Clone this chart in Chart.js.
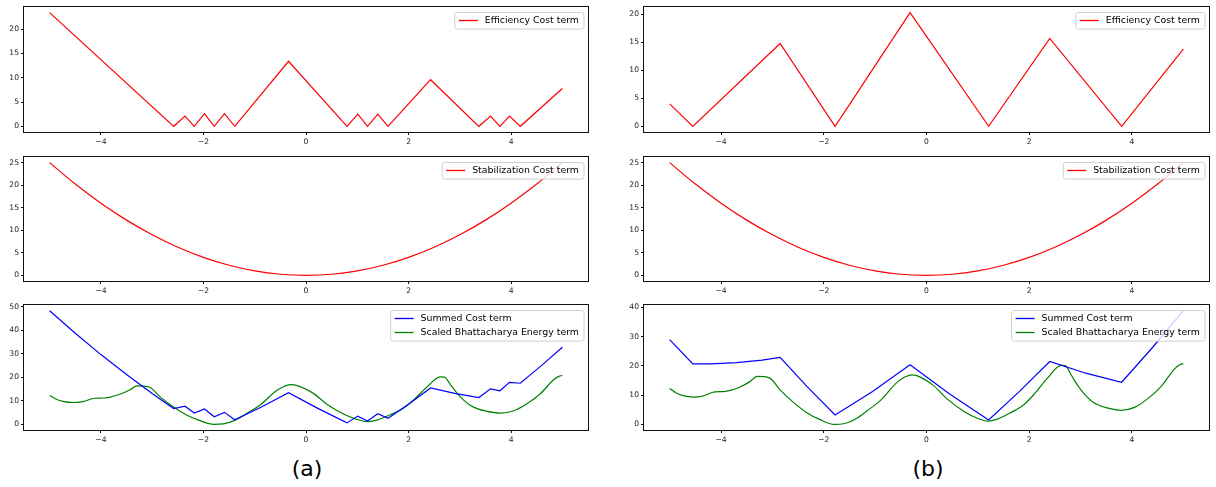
<!DOCTYPE html>
<html>
<head>
<meta charset="utf-8">
<script src="https://cdn.jsdelivr.net/npm/chart.js@4.4.1/dist/chart.umd.min.js"></script>
<style>
  html, body { margin: 0; padding: 0; background: #fff; width: 1216px; height: 487px; overflow: hidden; }
  canvas { position: absolute; }
  .cap { position: absolute; font-family: 'DejaVu Sans', sans-serif; font-size: 22px; color: #000;
         transform: translate(-50%, -50%); white-space: nowrap; }
</style>
</head>
<body>
<div class="cap" style="left:307px;top:468px">(a)</div>
<div class="cap" style="left:928px;top:468px">(b)</div>
<script>
// cost terms over the state range [-5, 5]

// (a) efficiency cost, vertices of the piecewise-linear curve
var effA_x = [-5.0, -2.58, -2.36, -2.18, -1.98, -1.79, -1.59, -1.39, -0.34, 0.80, 1.01, 1.20, 1.40, 1.60, 2.43, 3.37, 3.60, 3.78, 3.97, 4.18, 5.0];
var effA_y = [23.4, 0.0, 2.1, 0.0, 2.6, 0.0, 2.6, 0.0, 13.4, 0.0, 2.5, 0.0, 2.5, 0.0, 9.6, 0.0, 2.1, 0.0, 2.1, 0.0, 7.8];

// (b) efficiency cost
var effB_x = [-5.0, -4.55, -2.85, -1.78, -0.32, 1.21, 2.40, 3.80, 5.0];
var effB_y = [4.0, 0.0, 14.8, 0.0, 20.3, 0.0, 15.7, 0.0, 13.8];

// stabilization cost (same in both)
var stab_x = [-5.0, -4.5, -4.0, -3.5, -3.0, -2.5, -2.0, -1.5, -1.0, -0.5, 0.0, 0.5, 1.0, 1.5, 2.0, 2.5, 3.0, 3.5, 4.0, 4.5, 5.0];
var stab_y = [25.0, 20.25, 16.0, 12.25, 9.0, 6.25, 4.0, 2.25, 1.0, 0.25, 0.0, 0.25, 1.0, 2.25, 4.0, 6.25, 9.0, 12.25, 16.0, 20.25, 25.0];

// (a) summed cost
var sumA_x = [-5.0, -4.5, -4.0, -3.5, -3.0, -2.58, -2.36, -2.18, -1.98, -1.79, -1.59, -1.39, -0.87, -0.34, 0.23, 0.80, 1.01, 1.20, 1.40, 1.60, 2.02, 2.43, 2.90, 3.37, 3.60, 3.78, 3.97, 4.18, 4.59, 5.0];
var sumA_y = [48.4, 38.8, 29.7, 21.2, 13.1, 6.7, 7.7, 4.8, 6.5, 3.2, 5.1, 1.9, 7.4, 13.5, 6.8, 0.6, 3.5, 1.4, 4.5, 2.6, 8.9, 15.5, 13.2, 11.4, 15.1, 14.3, 17.9, 17.5, 25.0, 32.8];

// (b) summed cost
var sumB_x = [-5.0, -4.55, -4.2, -3.7, -3.2, -2.85, -2.32, -1.78, -1.05, -0.32, 0.45, 1.21, 1.80, 2.40, 3.10, 3.80, 4.40, 5.0];
var sumB_y = [29.0, 20.7, 20.7, 21.1, 22.0, 22.9, 12.8, 3.2, 11.2, 20.4, 10.4, 1.5, 11.1, 21.5, 17.5, 14.4, 26.3, 38.9];

// scaled Bhattacharya energy (same in both)
var bhatt_x = [-5.0, -4.87, -4.74, -4.54, -4.35, -4.12, -3.95, -3.82, -3.63, -3.43, -3.30, -3.06, -2.85, -2.59, -2.33, -2.07, -1.80, -1.61, -1.38, -1.15, -0.89, -0.55, -0.28, 0.12, 0.40, 0.73, 0.99, 1.19, 1.38, 1.64, 1.90, 2.10, 2.35, 2.62, 2.70, 2.82, 2.94, 3.07, 3.21, 3.35, 3.50, 3.79, 4.05, 4.31, 4.57, 4.83, 4.93, 5.0];
var bhatt_y = [12.3, 10.7, 9.8, 9.3, 9.7, 11.1, 11.2, 11.6, 12.8, 14.7, 16.4, 15.9, 11.8, 7.5, 4.0, 1.6, 0.0, 0.2, 1.8, 4.7, 8.3, 14.7, 16.9, 13.5, 8.7, 4.4, 2.1, 1.1, 1.8, 4.0, 6.8, 10.4, 15.7, 20.2, 20.1, 16.8, 13.4, 10.4, 8.0, 6.6, 5.7, 4.8, 5.8, 8.8, 13.0, 19.0, 20.4, 20.8];

var xTicks = [-4, -2, 0, 2, 4];
var yTicksEffA = [0, 5, 10, 15, 20];
var yTicksEffB = [0, 5, 10, 15, 20];
var yTicksStab = [0, 5, 10, 15, 20, 25];
var yTicksSumA = [0, 10, 20, 30, 40, 50];
var yTicksSumB = [0, 10, 20, 30, 40];

var RED = '#ff0000', BLUE = '#0000ff', GREEN = '#008000';

// plot frame positions on the page
var COLS = [{ left: 24, width: 564 }, { left: 644, width: 565 }];
var ROWS = [{ top: 7, height: 125 }, { top: 157, height: 124 }, { top: 305, height: 125 }];
var Y_AXIS_W = 24, X_AXIS_H = 20, PAD_T = 8, PAD_R = 6;
var TICK_FONT = { family: "'DejaVu Sans', sans-serif", size: 7.6 };
var LEGEND_SIZE = 9.4;

function pts(xs, ys) {
    return xs.map(function (x, i) { return { x: x, y: ys[i] }; });
}

// autoscale with a 5% margin on each side
function padded(arrs) {
    var lo = Infinity, hi = -Infinity;
    arrs.forEach(function (a) {
        a.forEach(function (v) { lo = Math.min(lo, v); hi = Math.max(hi, v); });
    });
    var m = (hi - lo) * 0.05;
    return [lo - m, hi + m];
}

function fmt(v) {
    return v < 0 ? '\u2212' + Math.abs(v) : String(v);
}

// black spines round the plot area
var framePlugin = {
    id: 'frame',
    afterDraw: function (chart) {
        var a = chart.chartArea, ctx = chart.ctx;
        ctx.save();
        ctx.strokeStyle = '#111';
        ctx.lineWidth = 1;
        ctx.strokeRect(a.left - 0.5, a.top - 0.5, a.right - a.left + 1, a.bottom - a.top + 1);
        ctx.restore();
    }
};

// upper-right legend in a rounded, semi-opaque box
var boxLegend = {
    id: 'boxLegend',
    afterDraw: function (chart) {
        var ctx = chart.ctx, a = chart.chartArea;
        var sets = chart.data.datasets;
        ctx.save();
        ctx.font = LEGEND_SIZE + "px 'DejaVu Sans', sans-serif";
        var textW = 0;
        sets.forEach(function (d) { textW = Math.max(textW, ctx.measureText(d.label).width); });
        var w = 4 + 19 + 7 + textW + 5;
        var h = 8 + (sets.length - 1) * 14 + 8.6;
        var x0 = a.right - 4 - w, y0 = a.top + 5.5;
        ctx.beginPath();
        ctx.roundRect(x0, y0, w, h, 2.5);
        ctx.fillStyle = 'rgba(255,255,255,0.8)';
        ctx.fill();
        ctx.strokeStyle = '#d0d0d0';
        ctx.lineWidth = 1;
        ctx.stroke();
        sets.forEach(function (d, i) {
            var cy = y0 + 8 + i * 14;
            ctx.strokeStyle = d.borderColor;
            ctx.lineWidth = 1.3;
            ctx.beginPath();
            ctx.moveTo(x0 + 4, cy);
            ctx.lineTo(x0 + 23, cy);
            ctx.stroke();
            ctx.fillStyle = '#000';
            ctx.textBaseline = 'middle';
            ctx.fillText(d.label, x0 + 30, cy + 0.5);
        });
        ctx.restore();
    }
};

function panel(col, row, series, yTicks) {
    var c = COLS[col], r = ROWS[row];
    var canvas = document.createElement('canvas');
    var w = c.width + Y_AXIS_W + PAD_R, h = r.height + PAD_T + X_AXIS_H;
    canvas.width = w; canvas.height = h;
    canvas.style.left = (c.left - Y_AXIS_W) + 'px';
    canvas.style.top = (r.top - PAD_T) + 'px';
    canvas.style.width = w + 'px'; canvas.style.height = h + 'px';
    document.body.appendChild(canvas);

    var xr = padded(series.map(function (s) { return s.x; }));
    var yr = padded(series.map(function (s) { return s.y; }));

    var datasets = series.map(function (s) {
        return {
            label: s.label,
            data: pts(s.x, s.y),
            borderColor: s.color,
            borderWidth: 1.2,
            pointRadius: 0,
            fill: false,
            tension: 0,
            cubicInterpolationMode: s.smooth ? 'monotone' : 'default'
        };
    });

    function axis(min, max, ticks, fit) {
        return {
            type: 'linear',
            min: min, max: max,
            afterBuildTicks: function (s) { s.ticks = ticks.map(function (v) { return { value: v }; }); },
            afterFit: fit,
            grid: { display: true, drawOnChartArea: false, drawTicks: true, tickLength: 3, color: '#111', tickColor: '#111', lineWidth: 1 },
            border: { display: false },
            ticks: { font: TICK_FONT, color: '#222', padding: 2, autoSkip: false, maxRotation: 0, callback: fmt }
        };
    }

    return new Chart(canvas, {
        type: 'line',
        data: { datasets: datasets },
        options: {
            responsive: false,
            maintainAspectRatio: false,
            animation: false,
            devicePixelRatio: 1,
            layout: { padding: { top: PAD_T, right: PAD_R, left: 0, bottom: 0 } },
            plugins: { legend: { display: false }, tooltip: { enabled: false } },
            scales: {
                x: axis(xr[0], xr[1], xTicks, function (s) { s.height = X_AXIS_H; }),
                y: axis(yr[0], yr[1], yTicks, function (s) { s.width = Y_AXIS_W; })
            }
        },
        plugins: [framePlugin, boxLegend]
    });
}

var effLabel = 'Efficiency Cost term';
var stabLabel = 'Stabilization Cost term';
var sumLabel = 'Summed Cost term';
var bhattLabel = 'Scaled Bhattacharya Energy term';

panel(0, 0, [{ label: effLabel, x: effA_x, y: effA_y, color: RED }], yTicksEffA);
panel(1, 0, [{ label: effLabel, x: effB_x, y: effB_y, color: RED }], yTicksEffB);
panel(0, 1, [{ label: stabLabel, x: stab_x, y: stab_y, color: RED, smooth: true }], yTicksStab);
panel(1, 1, [{ label: stabLabel, x: stab_x, y: stab_y, color: RED, smooth: true }], yTicksStab);
panel(0, 2, [
    { label: sumLabel, x: sumA_x, y: sumA_y, color: BLUE },
    { label: bhattLabel, x: bhatt_x, y: bhatt_y, color: GREEN, smooth: true }
], yTicksSumA);
panel(1, 2, [
    { label: sumLabel, x: sumB_x, y: sumB_y, color: BLUE },
    { label: bhattLabel, x: bhatt_x, y: bhatt_y, color: GREEN, smooth: true }
], yTicksSumB);
</script>
</body>
</html>
